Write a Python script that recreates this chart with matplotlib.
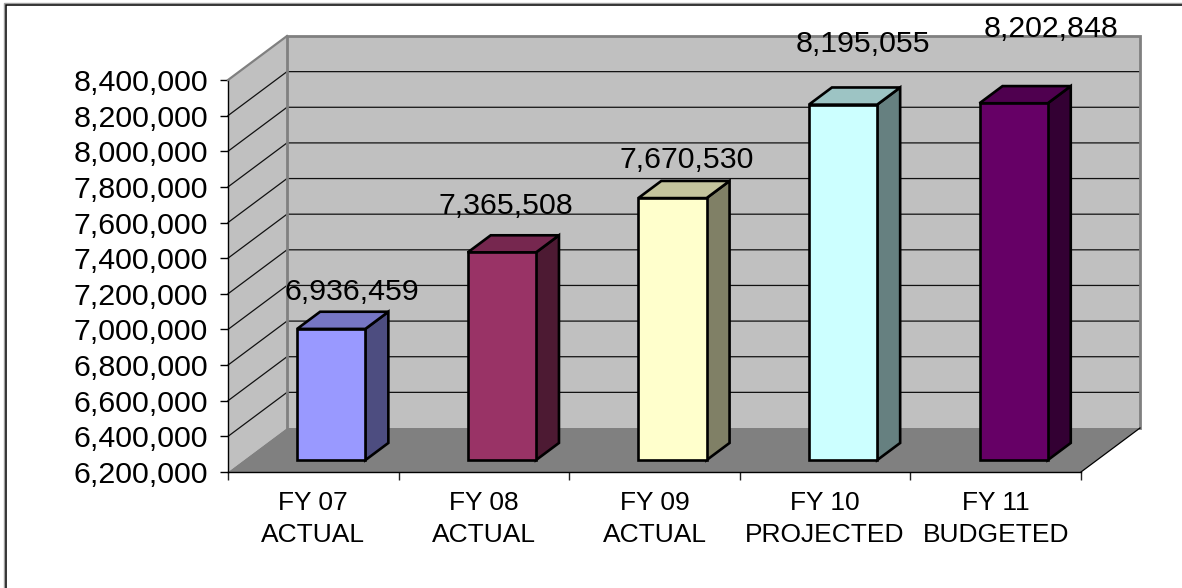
import matplotlib
matplotlib.use("Agg")
import matplotlib.pyplot as plt
from matplotlib.lines import Line2D
from matplotlib.patches import Polygon
from matplotlib.colors import to_rgb

categories = ["FY 07\nACTUAL", "FY 08\nACTUAL", "FY 09\nACTUAL", "FY 10\nPROJECTED", "FY 11\nBUDGETED"]
values = [6936459, 7365508, 7670530, 8195055, 8202848]
colors = ["#9999FF", "#993366", "#FFFFCC", "#CCFFFF", "#660066"]
y_ticks = list(range(6200000, 8400001, 200000))
label_offsets = [(21, 38), (4, 47), (14, 39), (20, 62), (37, 75)]

W, H = 1182, 588
L, R, T, B = 228, 1081, 80, 472
YMIN, YMAX = 6200000, 8400000
N = len(categories)
DX = 59 / ((R - L) / N)               # depth shift, category units
DY = 44 / ((B - T) / (YMAX - YMIN))   # depth shift, value units
BAR_W = 0.4
BAR_SHIFT = 2 / ((R - L) / N)         # small rightward nudge of the bars
D0, D1 = 0.27, 0.66                   # bar front / back depth

plt.rcParams["font.family"] = ["Liberation Sans", "DejaVu Sans"]
fig = plt.figure(figsize=(W / 100, H / 100), dpi=100, facecolor="white")

# chart-area frame: only the top and left edges show in the reference
for col, lw, off in (("#A0A0A0", 1.0, 1.2), ("black", 1.1, 0.0)):
    x = 5.5 - off
    y = 4.5 - off
    fig.add_artist(Line2D([x / W, x / W, 1], [0, 1 - y / H, 1 - y / H],
                          transform=fig.transFigure, color=col, lw=lw,
                          solid_joinstyle="miter"))

ax = fig.add_axes([L / W, 1 - B / H, (R - L) / W, (B - T) / H])
ax.set_xlim(0, N)
ax.set_ylim(YMIN, YMAX)
ax.patch.set_visible(False)
for s in ["top", "right"]:
    ax.spines[s].set_visible(False)
ax.spines["left"].set_linewidth(1.0)
ax.spines["bottom"].set_linewidth(1.0)


def P(x, y, d=0.0):
    return (x + d * DX, y + d * DY)


def poly(pts, fc, ec="none", lw=0.0, z=1, **kw):
    ax.add_patch(Polygon(pts, closed=True, fc=fc, ec=ec, lw=lw, zorder=z,
                         clip_on=False, joinstyle="miter", **kw))


# walls and floor
poly([P(0, YMIN), P(0, YMAX), P(0, YMAX, 1), P(0, YMIN, 1)], "#C0C0C0", z=1)
poly([P(0, YMIN, 1), P(0, YMAX, 1), P(N, YMAX, 1), P(N, YMIN, 1)], "#C0C0C0", z=1)
poly([P(0, YMIN), P(N, YMIN), P(N, YMIN, 1), P(0, YMIN, 1)], "#808080", z=2)

# gridlines
for t in y_ticks[1:-1]:
    ax.plot(*zip(P(0, t), P(0, t, 1), P(N, t, 1)), color="#111111", lw=0.9, zorder=2,
            clip_on=False, solid_joinstyle="miter")

# wall edges
ax.plot(*zip(P(0, YMAX), P(0, YMAX, 1)), color="#808080", lw=1.6, zorder=3, clip_on=False)
ax.plot(*zip(P(0, YMIN, 1), P(0, YMAX, 1), P(N, YMAX, 1), P(N, YMIN, 1)),
        color="#808080", lw=2.0, zorder=3, clip_on=False, solid_joinstyle="miter")
ax.plot(*zip(P(N, YMIN), P(N, YMIN, 1)), color="black", lw=0.9, zorder=3, clip_on=False)

# bars
for i, (v, c) in enumerate(zip(values, colors)):
    rgb = to_rgb(c)
    top = tuple(k * 0.77 for k in rgb)
    side = tuple(k * 0.5 for k in rgb)
    x0 = i + 0.5 - BAR_W / 2 + BAR_SHIFT
    x1 = i + 0.5 + BAR_W / 2 + BAR_SHIFT
    edge = dict(ec="black", lw=1.9)
    poly([P(x1, YMIN, D0), P(x1, v, D0), P(x1, v, D1), P(x1, YMIN, D1)], side, z=4, **edge)
    poly([P(x0, v, D0), P(x1, v, D0), P(x1, v, D1), P(x0, v, D1)], top, z=4, **edge)
    poly([P(x0, YMIN, D0), P(x1, YMIN, D0), P(x1, v, D0), P(x0, v, D0)], c, z=5, **edge)
    ox, oy = label_offsets[i]
    ax.annotate(f"{v:,}", xy=P(i + 0.5 + BAR_SHIFT, v, D0), xytext=(ox, oy - 1),
                textcoords="offset pixels",
                ha="center", va="center", fontsize=21.8, color="black", zorder=6,
                annotation_clip=False)

# axes
ax.set_yticks(y_ticks)
ax.set_yticklabels([f"{t:,}" for t in y_ticks], fontsize=21.9)
ax.tick_params(axis="y", length=5.8, width=1.0, pad=8.5)
ax.set_xticks(range(N + 1))
ax.set_xticklabels([""] * (N + 1))
ax.tick_params(axis="x", length=6, width=1.0, color="#222222")
for i, lab in enumerate(categories):
    ax.annotate(lab, xy=(i + 0.5, YMIN), xytext=(0, -47), textcoords="offset pixels",
                ha="center", va="center", fontsize=19, linespacing=1.42, annotation_clip=False)

fig.savefig("out.png", dpi=100, facecolor="white")
